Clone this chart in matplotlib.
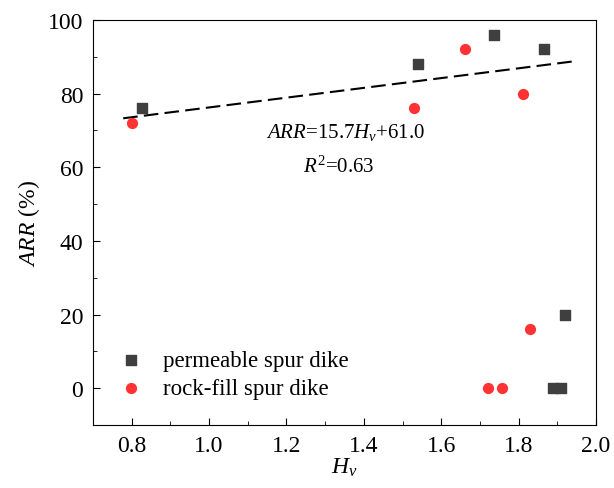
import matplotlib
matplotlib.use("Agg")
import matplotlib.pyplot as plt
from matplotlib.ticker import MultipleLocator

plt.rcParams['font.family'] = ['Liberation Serif', 'DejaVu Serif']
plt.rcParams['mathtext.fontset'] = 'custom'
plt.rcParams['mathtext.rm'] = 'Liberation Serif'
plt.rcParams['mathtext.it'] = 'Liberation Serif:italic'

# permeable spur dike
perm_hv = [0.827, 1.539, 1.736, 1.866, 1.921, 1.890, 1.910]
perm_arr = [76, 88, 96, 92, 20, 0, 0]

# rock-fill spur dike
rock_hv = [0.801, 1.529, 1.661, 1.812, 1.830, 1.721, 1.757]
rock_arr = [72, 76, 92, 80, 16, 0, 0]

# fitted line as drawn in the figure (end points)
fit_hv = [0.778, 1.952]
fit_arr = [73.3, 88.9]

fig = plt.figure(figsize=(6.14, 4.89), dpi=100)
ax = fig.add_axes([93 / 614, 1 - 426 / 489, 503 / 614, 405 / 489])

ax.scatter(perm_hv, perm_arr, marker='s', s=48, color='#3f3f3f',
           label='permeable spur dike', zorder=3)
ax.scatter(rock_hv, rock_arr, marker='o', s=50, color='#ff3333',
           label='rock-fill spur dike', zorder=3)

ax.plot(fit_hv, fit_arr, linestyle=(0, (7, 3)), color='black', linewidth=1.5)

ax.text(1.354, 69.6, r'$\mathit{ARR}$=15.7$\mathit{H_v}$+61.0', fontsize=15,
        ha='center', va='center')
ax.text(1.334, 60.3, r'$\mathit{R}^2$=0.63', fontsize=15, ha='center', va='center')

ax.set_xlim(0.7, 2.0)
ax.set_ylim(-10, 100)
ax.xaxis.set_major_locator(MultipleLocator(0.2))
ax.xaxis.set_minor_locator(MultipleLocator(0.1))
ax.yaxis.set_major_locator(MultipleLocator(20))
ax.yaxis.set_minor_locator(MultipleLocator(10))
ax.tick_params(which='both', direction='in', labelsize=17, pad=7)
ax.tick_params(which='major', length=5)
ax.tick_params(which='minor', length=3)
ax.set_xticks([0.8, 1.0, 1.2, 1.4, 1.6, 1.8, 2.0])
ax.set_xticklabels(['0.8', '1.0', '1.2', '1.4', '1.6', '1.8', '2.0'])

ax.set_xlabel(r'$\mathit{H_v}$', fontsize=17, labelpad=0)
ax.set_ylabel(r'$\mathit{ARR}$ (%)', fontsize=17, labelpad=4)

ax.legend(loc='lower left', bbox_to_anchor=(-0.012, 0.013), frameon=False,
          fontsize=16.5, handletextpad=0.42, labelspacing=0.3, borderaxespad=0.5)

fig.savefig('out.png', dpi=100)
